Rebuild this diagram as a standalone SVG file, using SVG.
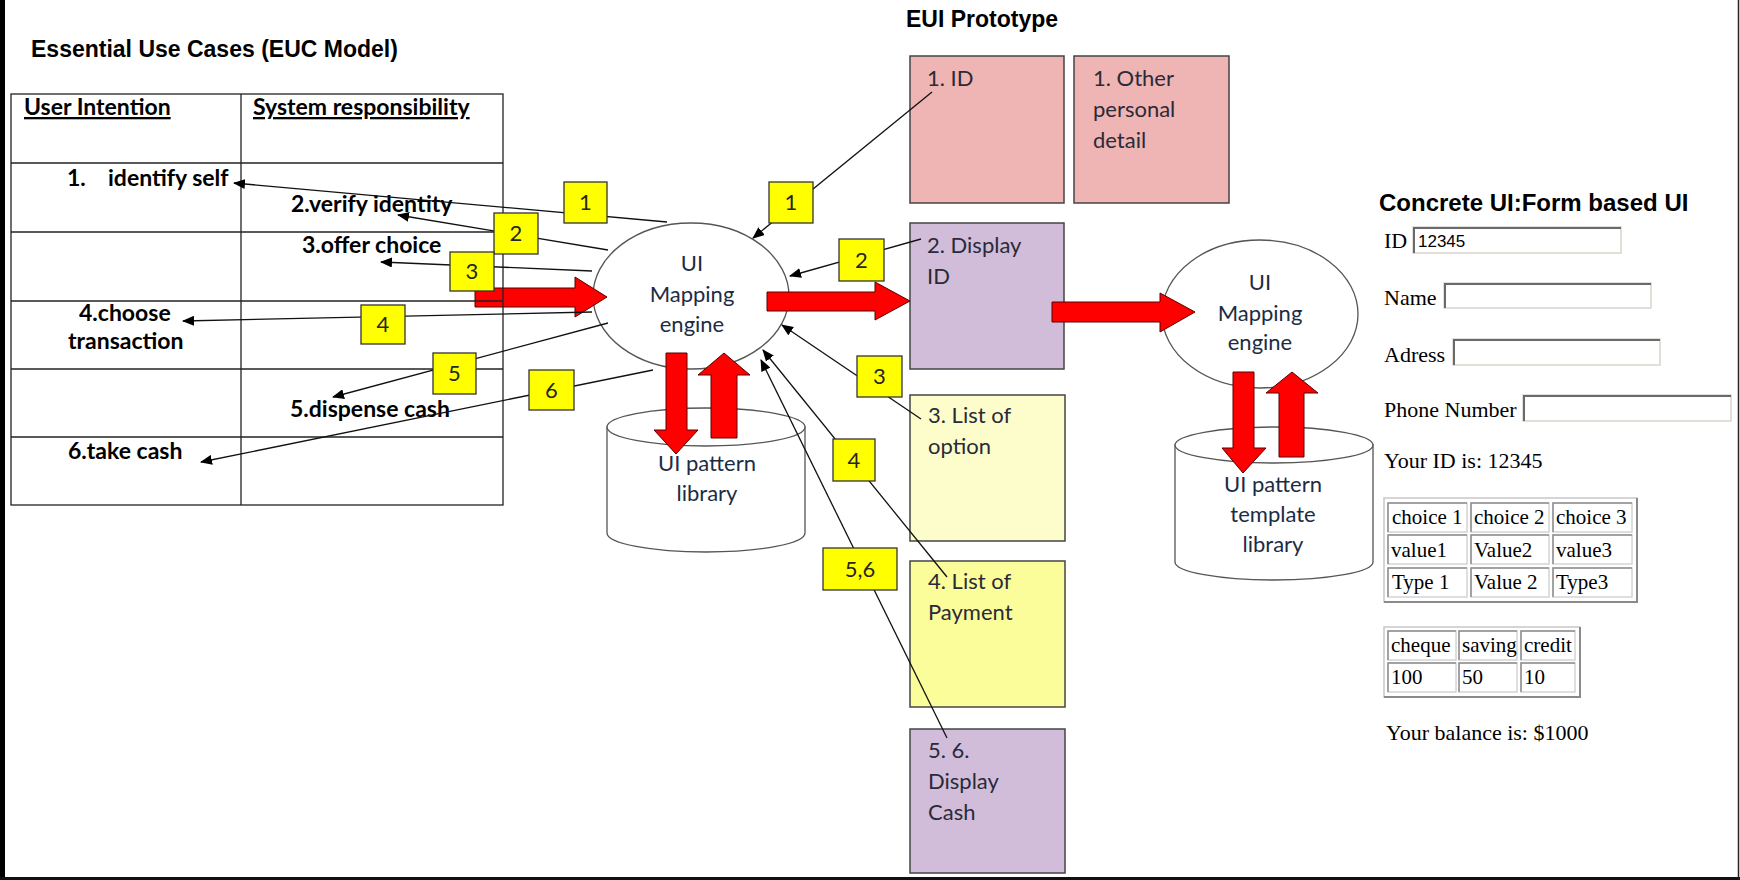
<svg xmlns="http://www.w3.org/2000/svg" width="1740" height="880" viewBox="0 0 1740 880">
  <defs>
    <marker id="tip" viewBox="0 0 12 10" refX="11" refY="5" markerWidth="12" markerHeight="10" markerUnits="userSpaceOnUse" orient="auto">
      <path d="M0,0 L12,5 L0,10 Z" fill="#000"/>
    </marker>
    <style>
      .sans { font-family: "Liberation Sans", Arial, sans-serif; fill: #000; }
      .euc { font-family: Lato, "Open Sans", sans-serif; font-weight: bold; font-size: 23px; fill: #000; }
      .serif { font-family: "Liberation Serif", "Times New Roman", serif; font-size: 21px; fill: #000; }
      .label { font-size: 22px; }
      .grid { stroke: #222; stroke-width: 1.3; fill: none; }
      .shape { fill: #fff; stroke: #555; stroke-width: 1.3; }
      .shapetext { font-family: Lato, "Open Sans", sans-serif; font-size: 22px; fill: #1c2c44; text-anchor: middle; }
      .boxtext { font-family: Lato, "Open Sans", sans-serif; font-size: 22px; fill: #2a2a38; }
      .eui { stroke: #444; stroke-width: 1.5; }
      .pink { fill: #efb4b4; }
      .lilac { fill: #d1bdd9; }
      .paleyellow { fill: #fcfdca; }
      .yellow { fill: #fafd99; }
      .bigarrow { fill: #ff0000; stroke: #5a0000; stroke-width: 1; }
      .conn { stroke: #111; stroke-width: 1.3; fill: none; }
      .tag rect { fill: #ffff00; stroke: #333; stroke-width: 1.3; }
      .tag text { font-family: Lato, "Open Sans", sans-serif; font-size: 22px; fill: #262626; text-anchor: middle; }
      .field { fill: #fff; stroke: #d8d5cd; stroke-width: 1.5; }
      .fieldshade { fill: none; stroke: #6a6a6a; stroke-width: 2; }
      .tbl { fill: #fff; stroke: #c8c8c8; stroke-width: 1.5; }
      .tblshade { fill: none; stroke: #8a8a8a; stroke-width: 2; }
      .cell { fill: #fff; stroke: #d4d4d4; stroke-width: 1.5; }
      .cellshade { fill: none; stroke: #8e8e8e; stroke-width: 1.5; }
    </style>
  </defs>

  <rect x="0" y="0" width="1740" height="880" fill="#fff"/>

  <!-- page frame -->
  <g id="frame">
    <rect x="0" y="0" width="5" height="880" fill="#000"/>
    <rect x="0" y="877" width="1740" height="3" fill="#111"/>
    <line x1="1738.5" y1="0" x2="1738.5" y2="880" stroke="#222" stroke-width="1.5"/>
  </g>

  <!-- section headings -->
  <g id="headings">
    <text class="sans" x="31" y="57" font-size="23" font-weight="bold">Essential Use Cases (EUC Model)</text>
    <text class="sans" x="906" y="27" font-size="23" font-weight="bold">EUI Prototype</text>
    <text class="sans" x="1379" y="211" font-size="24" font-weight="bold">Concrete UI:Form based UI</text>
  </g>

  <!-- EUI prototype cards -->
  <g id="eui-id">
    <rect class="eui pink" x="910" y="56" width="154" height="147"/>
    <text class="boxtext" x="927" y="86">1. ID</text>
  </g>
  <g id="eui-other">
    <rect class="eui pink" x="1074" y="56" width="155" height="147"/>
    <text class="boxtext" x="1093" y="86">1. Other</text>
    <text class="boxtext" x="1093" y="117">personal</text>
    <text class="boxtext" x="1093" y="148">detail</text>
  </g>
  <g id="eui-display-id">
    <rect class="eui lilac" x="910" y="223" width="154" height="146"/>
    <text class="boxtext" x="927" y="253">2. Display</text>
    <text class="boxtext" x="927" y="284">ID</text>
  </g>
  <g id="eui-options">
    <rect class="eui paleyellow" x="910" y="395" width="155" height="146"/>
    <text class="boxtext" x="928" y="423">3. List of</text>
    <text class="boxtext" x="928" y="454">option</text>
  </g>
  <g id="eui-payment">
    <rect class="eui yellow" x="910" y="561" width="155" height="146"/>
    <text class="boxtext" x="928" y="589">4. List of</text>
    <text class="boxtext" x="928" y="620">Payment</text>
  </g>
  <g id="eui-cash">
    <rect class="eui lilac" x="910" y="729" width="155" height="144"/>
    <text class="boxtext" x="928" y="758">5. 6.</text>
    <text class="boxtext" x="928" y="789">Display</text>
    <text class="boxtext" x="928" y="820">Cash</text>
  </g>

  <!-- mapping engines and pattern stores -->
  <g id="engine-1">
    <ellipse class="shape" cx="691" cy="296" rx="98" ry="73"/>
    <text class="shapetext" x="692" y="271">UI</text>
    <text class="shapetext" x="692" y="302">Mapping</text>
    <text class="shapetext" x="692" y="332">engine</text>
  </g>
  <g id="library-1">
    <path class="shape" d="M607,427 V533 A99,19 0 0 0 805,533 V427 Z"/>
    <ellipse class="shape" cx="706" cy="427" rx="99" ry="19"/>
    <text class="shapetext" x="707" y="471">UI pattern</text>
    <text class="shapetext" x="707" y="501">library</text>
  </g>
  <g id="engine-2">
    <ellipse class="shape" cx="1260" cy="314" rx="98" ry="74"/>
    <text class="shapetext" x="1260" y="290">UI</text>
    <text class="shapetext" x="1260" y="321">Mapping</text>
    <text class="shapetext" x="1260" y="350">engine</text>
  </g>
  <g id="library-2">
    <path class="shape" d="M1175,445 V562 A99,18 0 0 0 1373,562 V445 Z"/>
    <ellipse class="shape" cx="1274" cy="445" rx="99" ry="18"/>
    <text class="shapetext" x="1273" y="492">UI pattern</text>
    <text class="shapetext" x="1273" y="522">template</text>
    <text class="shapetext" x="1273" y="552">library</text>
  </g>

  <!-- block arrows -->
  <g id="flow-arrows">
    <path class="bigarrow" d="M475,288 H575 V277 L607,297 L575,317 V307 H475 Z"/>
    <path class="bigarrow" d="M767,292 H875 V282 L910,301 L875,320 V311 H767 Z"/>
    <path class="bigarrow" d="M1052,302 H1160 V293 L1195,312 L1160,332 V322 H1052 Z"/>
    <path class="bigarrow" d="M666,353 H687 V430 H698 L676,454 L654,430 H666 Z"/>
    <path class="bigarrow" d="M711,438 V375 H698 L724,353 L750,375 H737 V438 Z"/>
    <path class="bigarrow" d="M1233,372 H1254 V448 H1266 L1243,473 L1222,448 H1233 Z"/>
    <path class="bigarrow" d="M1279,457 V393 H1266 L1292,372 L1318,393 H1304 V457 Z"/>
  </g>

  <!-- essential use case table -->
  <g id="euc-table">
    <rect class="grid" x="11" y="94" width="492" height="411"/>
    <line class="grid" x1="241" y1="94" x2="241" y2="505"/>
    <line class="grid" x1="11" y1="163" x2="503" y2="163"/>
    <line class="grid" x1="11" y1="232" x2="503" y2="232"/>
    <line class="grid" x1="11" y1="301" x2="503" y2="301"/>
    <line class="grid" x1="11" y1="369" x2="503" y2="369"/>
    <line class="grid" x1="11" y1="437" x2="503" y2="437"/>
    <text class="euc" x="24" y="115" text-decoration="underline">User Intention</text>
    <text class="euc" x="253" y="115" text-decoration="underline">System responsibility</text>
    <text class="euc" x="67" y="186">1.</text>
    <text class="euc" x="108" y="186">identify self</text>
    <text class="euc" x="291" y="212">2.verify identity</text>
    <text class="euc" x="302" y="253">3.offer choice</text>
    <text class="euc" x="79" y="321">4.choose</text>
    <text class="euc" x="68" y="349">transaction</text>
    <text class="euc" x="290" y="417">5.dispense cash</text>
    <text class="euc" x="68" y="459">6.take cash</text>
  </g>

  <!-- numbered links -->
  <g id="connectors">
    <path class="conn" d="M667,222 L234,183" marker-end="url(#tip)"/>
    <path class="conn" d="M608,250 L398,215" marker-end="url(#tip)"/>
    <path class="conn" d="M592,271 L381,262" marker-end="url(#tip)"/>
    <path class="conn" d="M592,312 L183,321" marker-end="url(#tip)"/>
    <path class="conn" d="M608,323 L333,397" marker-end="url(#tip)"/>
    <path class="conn" d="M653,370 L201,462" marker-end="url(#tip)"/>
    <path class="conn" d="M932,92 L753,238" marker-end="url(#tip)"/>
    <path class="conn" d="M921,239 L790,276" marker-end="url(#tip)"/>
    <path class="conn" d="M921,419 L782,325" marker-end="url(#tip)"/>
    <path class="conn" d="M947,577 L763,350" marker-end="url(#tip)"/>
    <path class="conn" d="M947,738 L761,360" marker-end="url(#tip)"/>
  </g>

  <!-- step tags -->
  <g id="tag-l1" class="tag"><rect x="564" y="182" width="43" height="41"/><text x="585.5" y="210">1</text></g>
  <g id="tag-l2" class="tag"><rect x="494" y="213" width="44" height="41"/><text x="516" y="241">2</text></g>
  <g id="tag-l3" class="tag"><rect x="450" y="252" width="44" height="39"/><text x="472" y="279">3</text></g>
  <g id="tag-l4" class="tag"><rect x="361" y="305" width="44" height="39"/><text x="383" y="332">4</text></g>
  <g id="tag-l5" class="tag"><rect x="433" y="353" width="43" height="41"/><text x="454.5" y="381">5</text></g>
  <g id="tag-l6" class="tag"><rect x="529" y="370" width="45" height="40"/><text x="551.5" y="398">6</text></g>
  <g id="tag-r1" class="tag"><rect x="769" y="182" width="44" height="41"/><text x="791" y="210">1</text></g>
  <g id="tag-r2" class="tag"><rect x="839" y="239" width="45" height="42"/><text x="861.5" y="268">2</text></g>
  <g id="tag-r3" class="tag"><rect x="857" y="356" width="45" height="41"/><text x="879.5" y="384">3</text></g>
  <g id="tag-r4" class="tag"><rect x="833" y="439" width="42" height="42"/><text x="854" y="468">4</text></g>
  <g id="tag-r56" class="tag"><rect x="823" y="548" width="74" height="42"/><text x="860" y="577">5,6</text></g>

  <!-- concrete form -->
  <g id="form">
    <text class="serif label" x="1384" y="248">ID</text>
    <rect class="field" x="1413" y="227" width="208" height="26"/>
    <polyline class="fieldshade" points="1414,253 1414,228 1621,228"/>
    <text x="1418" y="247" font-family="Liberation Sans, Arial, sans-serif" font-size="17" fill="#000">12345</text>

    <text class="serif label" x="1384" y="305">Name</text>
    <rect class="field" x="1444" y="283" width="207" height="25"/>
    <polyline class="fieldshade" points="1445,308 1445,284 1651,284"/>

    <text class="serif label" x="1384" y="362">Adress</text>
    <rect class="field" x="1453" y="339" width="207" height="26"/>
    <polyline class="fieldshade" points="1454,365 1454,340 1660,340"/>

    <text class="serif label" x="1384" y="417">Phone Number</text>
    <rect class="field" x="1523" y="395" width="208" height="26"/>
    <polyline class="fieldshade" points="1524,421 1524,396 1731,396"/>

    <text class="serif label" x="1384" y="468">Your ID is: 12345</text>
  </g>

  <g id="choice-table">
    <rect class="tbl" x="1384" y="498" width="253" height="104"/>
    <polyline class="tblshade" points="1384,602 1637,602 1637,498"/>
    <rect class="cell" x="1388" y="503" width="79" height="29"/>
    <rect class="cell" x="1471" y="503" width="78" height="29"/>
    <rect class="cell" x="1553" y="503" width="79" height="29"/>
    <rect class="cell" x="1388" y="535" width="79" height="29"/>
    <rect class="cell" x="1471" y="535" width="78" height="29"/>
    <rect class="cell" x="1553" y="535" width="79" height="29"/>
    <rect class="cell" x="1388" y="568" width="79" height="29"/>
    <rect class="cell" x="1471" y="568" width="78" height="29"/>
    <rect class="cell" x="1553" y="568" width="79" height="29"/>
    <path class="cellshade" d="M1388,532 V503 H1467 M1471,532 V503 H1549 M1553,532 V503 H1632 M1388,564 V535 H1467 M1471,564 V535 H1549 M1553,564 V535 H1632 M1388,597 V568 H1467 M1471,597 V568 H1549 M1553,597 V568 H1632"/>
    <text class="serif" x="1392" y="524">choice 1</text>
    <text class="serif" x="1474" y="524">choice 2</text>
    <text class="serif" x="1556" y="524">choice 3</text>
    <text class="serif" x="1391" y="557">value1</text>
    <text class="serif" x="1474" y="557">Value2</text>
    <text class="serif" x="1556" y="557">value3</text>
    <text class="serif" x="1392" y="589">Type 1</text>
    <text class="serif" x="1474" y="589">Value 2</text>
    <text class="serif" x="1556" y="589">Type3</text>
  </g>

  <g id="account-table">
    <rect class="tbl" x="1384" y="627" width="196" height="70"/>
    <polyline class="tblshade" points="1384,697 1580,697 1580,627"/>
    <rect class="cell" x="1388" y="631" width="68" height="29"/>
    <rect class="cell" x="1459" y="631" width="58" height="29"/>
    <rect class="cell" x="1521" y="631" width="54" height="29"/>
    <rect class="cell" x="1388" y="663" width="68" height="29"/>
    <rect class="cell" x="1459" y="663" width="58" height="29"/>
    <rect class="cell" x="1521" y="663" width="54" height="29"/>
    <path class="cellshade" d="M1388,660 V631 H1456 M1459,660 V631 H1517 M1521,660 V631 H1575 M1388,692 V663 H1456 M1459,692 V663 H1517 M1521,692 V663 H1575"/>
    <text class="serif" x="1391" y="652">cheque</text>
    <text class="serif" x="1462" y="652">saving</text>
    <text class="serif" x="1524" y="652">credit</text>
    <text class="serif" x="1391" y="684">100</text>
    <text class="serif" x="1462" y="684">50</text>
    <text class="serif" x="1524" y="684">10</text>
  </g>

  <g id="balance">
    <text class="serif label" x="1386" y="740">Your balance is: $1000</text>
  </g>
</svg>
